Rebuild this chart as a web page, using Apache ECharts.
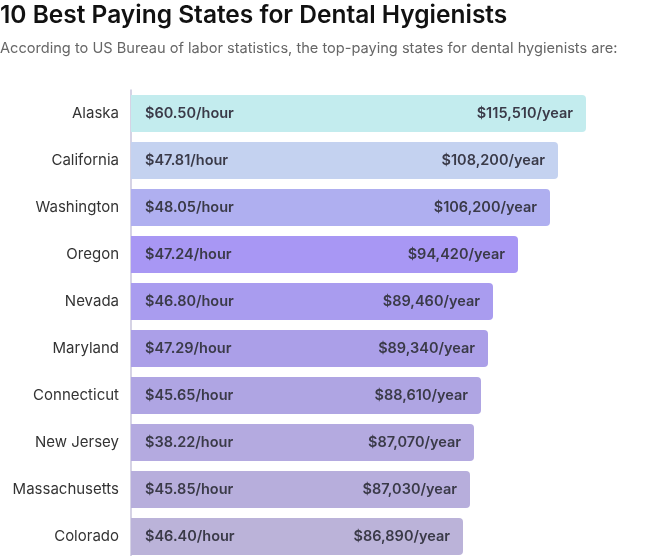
<!DOCTYPE html>
<html><head><meta charset="utf-8">
<script src="https://cdn.jsdelivr.net/npm/echarts@6/dist/echarts.min.js"></script>
<style>html,body{margin:0;padding:0;background:#fff}#c{width:651px;height:556px}</style>
</head><body><div id="c"></div>
<script>
const states = ["Alaska","California","Washington","Oregon","Nevada","Maryland","Connecticut","New Jersey","Massachusetts","Colorado"];
const hourly = ["$60.50","$47.81","$48.05","$47.24","$46.80","$47.29","$45.65","$38.22","$45.85","$46.40"];
const yearly = ["$115,510","$108,200","$106,200","$94,420","$89,460","$89,340","$88,610","$87,070","$87,030","$86,890"];
// bar lengths as drawn in the picture (decorative, not proportional to salary)
const barLength = [455, 427, 419, 387, 362, 357, 350, 343, 339, 332];
const colors = ["#c3ecee","#c4d2f0","#afaff0","#a897f4","#a99cef","#ab9fe8","#afa5e3","#b4aae0","#b7aedc","#bbb3d9"];

const chart = echarts.init(document.getElementById('c'), null, {renderer:'canvas'});
const font = 'Inter, "Noto Sans", sans-serif';
chart.setOption({
  animation:false,
  title:{
    text:"10 Best Paying States for Dental Hygienists",
    subtext:"According to US Bureau of labor statistics, the top-paying states for dental hygienists are:",
    left:0, top:3, padding:0, itemGap:13,
    textStyle:{fontFamily:font, fontSize:24.5, fontWeight:600, color:'#111'},
    subtextStyle:{fontFamily:font, fontSize:14.6, color:'#666'}
  },
  grid:{left:131, right:20, top:90, height:470, outerBoundsMode:'none', containLabel:false},
  xAxis:{type:'value', min:0, max:500, show:false},
  yAxis:{type:'category', data:states, inverse:true,
    axisLine:{show:true, lineStyle:{color:'#c9c5dd', width:1.5}},
    axisTick:{show:false},
    axisLabel:{margin:12, fontFamily:font, fontSize:15, color:'#333'}
  },
  series:[
    {type:'bar', barWidth:37,
     data:barLength.map((v,i)=>({value:v, itemStyle:{color:colors[i]}})),
     itemStyle:{borderRadius:[0,4,4,0]},
     label:{show:true, position:'insideLeft', distance:14, fontFamily:font, fontSize:14.5, fontWeight:600, color:'#3a3a48',
       formatter:p=>hourly[p.dataIndex]+'/hour'}
    },
    {type:'bar', barWidth:37, barGap:'-100%',
     data:barLength,
     itemStyle:{color:'rgba(0,0,0,0)'},
     label:{show:true, position:'insideRight', distance:13, fontFamily:font, fontSize:14.5, fontWeight:600, color:'#3a3a48',
       formatter:p=>yearly[p.dataIndex]+'/year'}
    }
  ]
});
</script></body></html>
